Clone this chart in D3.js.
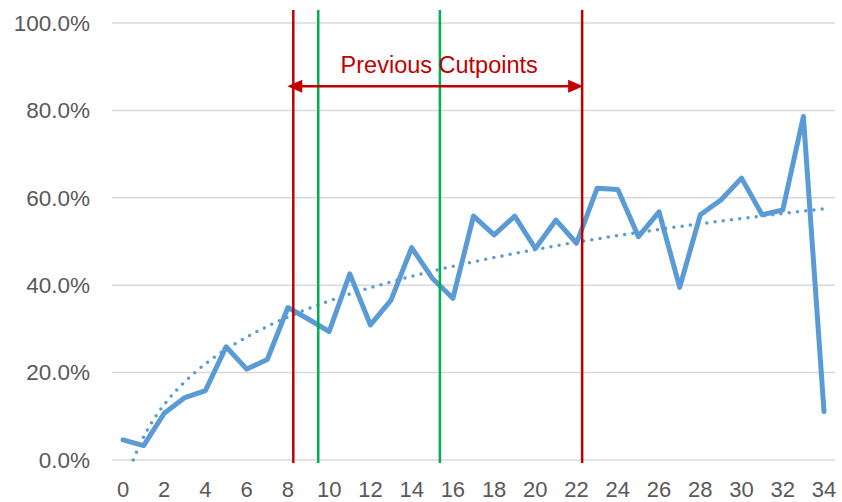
<!DOCTYPE html>
<html>
<head>
<meta charset="utf-8">
<script src="https://cdn.jsdelivr.net/npm/d3@7"></script>
<style>
  body { margin: 0; background: #fff; }
  svg { display: block; font-family: "Liberation Sans", Arial, sans-serif; }
</style>
</head>
<body>
<svg id="chart" width="842" height="502"></svg>
<script>
// data
var periods = d3.range(0, 35);
var rates = [4.6, 3.3, 10.7, 14.3, 15.9, 25.9, 20.8, 23.0, 34.9, 32.2, 29.4,
  42.6, 30.9, 36.6, 48.6, 41.6, 37.0, 55.8, 51.5, 55.8, 48.4, 54.9, 49.6,
  62.2, 61.9, 51.1, 56.8, 39.5, 56.1, 59.5, 64.5, 56.1, 57.2, 78.6, 11.1];
var yTicks = [0, 20, 40, 60, 80, 100];
var xTicks = d3.range(0, 35, 2);
var previousCuts = [8.26, 22.27];
var newCuts = [9.47, 15.37];
var arrowLabel = "Previous Cutpoints";

var svg = d3.select("#chart"),
  plotLeft = 112,
  plotRight = 835;

var x = d3.scaleLinear().domain([0, 34]).range([123, 824]);
var y = d3.scaleLinear().domain([0, 100]).range([460, 23]);

// gridlines
svg.append("g")
  .selectAll("line")
  .data(yTicks)
  .enter()
  .append("line")
  .attr("x1", plotLeft)
  .attr("x2", plotRight)
  .attr("y1", function (d) { return y(d); })
  .attr("y2", function (d) { return y(d); })
  .attr("stroke", "#d9d9d9")
  .attr("stroke-width", 1.5);

// y labels
svg.append("g")
  .selectAll("text")
  .data(yTicks)
  .enter()
  .append("text")
  .attr("x", 90)
  .attr("y", function (d) { return y(d); })
  .attr("dy", "0.35em")
  .attr("text-anchor", "end")
  .attr("font-size", 22.5)
  .attr("fill", "#595959")
  .text(function (d) { return d3.format(".1f")(d) + "%"; });

// x labels
svg.append("g")
  .selectAll("text")
  .data(xTicks)
  .enter()
  .append("text")
  .attr("x", function (d) { return x(d); })
  .attr("y", 497)
  .attr("text-anchor", "middle")
  .attr("font-size", 22)
  .attr("fill", "#595959")
  .text(function (d) { return d; });

// log trendline fitted to the series (x = category position 1..n)
var lx = periods.map(function (p) { return Math.log(p + 1); });
var mx = d3.mean(lx), my = d3.mean(rates);
var slope = d3.sum(lx, function (v, i) { return (v - mx) * (rates[i] - my); }) /
  d3.sum(lx, function (v) { return (v - mx) * (v - mx); });
var icpt = my - slope * mx;
var trendAt = function (p) { return slope * Math.log(p + 1) + icpt; };
var start = Math.max(0, Math.exp(-icpt / slope) - 1);
var trendPts = d3.range(start, 34.001, 0.1).map(function (p) { return [p, trendAt(p)]; });

svg.append("path")
  .datum(trendPts)
  .attr("fill", "none")
  .attr("stroke", "#5b9bd5")
  .attr("stroke-width", 3.5)
  .attr("stroke-linecap", "round")
  .attr("stroke-dasharray", "0 8.3")
  .attr("d", d3.line()
    .x(function (d) { return x(d[0]); })
    .y(function (d) { return y(d[1]); }));

// series
svg.append("path")
  .datum(rates)
  .attr("fill", "none")
  .attr("stroke", "#5b9bd5")
  .attr("stroke-width", 5)
  .attr("stroke-linejoin", "round")
  .attr("stroke-linecap", "round")
  .attr("d", d3.line()
    .x(function (d, i) { return x(periods[i]); })
    .y(function (d) { return y(d); }));

// cutpoint lines
svg.append("g")
  .selectAll("line")
  .data(newCuts)
  .enter()
  .append("line")
  .attr("x1", function (d) { return x(d); })
  .attr("x2", function (d) { return x(d); })
  .attr("y1", 10)
  .attr("y2", 463)
  .attr("stroke", "#00b050")
  .attr("stroke-width", 2.5);

svg.append("g")
  .selectAll("line")
  .data(previousCuts)
  .enter()
  .append("line")
  .attr("x1", function (d) { return x(d); })
  .attr("x2", function (d) { return x(d); })
  .attr("y1", 10)
  .attr("y2", 463)
  .attr("stroke", "#c00000")
  .attr("stroke-width", 2.5);

// double arrow between previous cutpoints
var ay = y(85.5),
  ax1 = x(previousCuts[0]) - 6,
  ax2 = x(previousCuts[1]) + 1;
svg.append("line")
  .attr("x1", ax1 + 8)
  .attr("x2", ax2 - 8)
  .attr("y1", ay)
  .attr("y2", ay)
  .attr("stroke", "#c00000")
  .attr("stroke-width", 2.5);
svg.append("path")
  .attr("d", "M" + ax1 + "," + ay + "L" + (ax1 + 15) + "," + (ay - 6.5) + "L" + (ax1 + 15) + "," + (ay + 6.5) + "Z")
  .attr("fill", "#c00000");
svg.append("path")
  .attr("d", "M" + ax2 + "," + ay + "L" + (ax2 - 15) + "," + (ay - 6.5) + "L" + (ax2 - 15) + "," + (ay + 6.5) + "Z")
  .attr("fill", "#c00000");

svg.append("text")
  .attr("x", (ax1 + ax2) / 2 + 4)
  .attr("y", 73)
  .attr("text-anchor", "middle")
  .attr("font-size", 23.5)
  .attr("fill", "#c00000")
  .text(arrowLabel);
</script>
</body>
</html>
